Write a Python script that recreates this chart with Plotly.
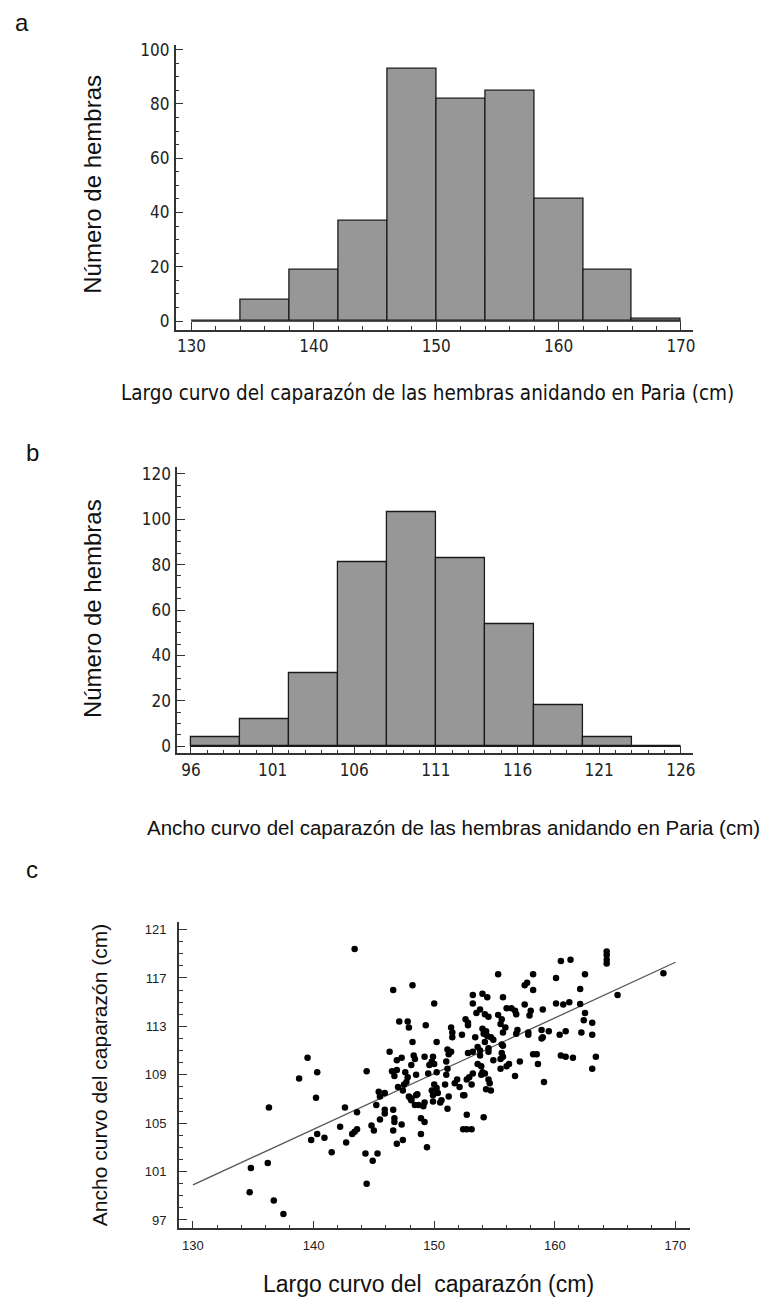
import plotly.graph_objects as go
import numpy as np

# ---------------- data ----------------
# Panel a: curved carapace length histogram (bin edges, counts)
a_edges = [130, 134, 138, 142, 146, 150, 154, 158, 162, 166, 170]
a_counts = [0, 8, 19, 37, 93, 82, 85, 45, 19, 1]
a_xticks = [130, 140, 150, 160, 170]
a_yticks = [0, 20, 40, 60, 80, 100]

# Panel b: curved carapace width histogram
b_edges = [96, 99, 102, 105, 108, 111, 114, 117, 120, 123, 126]
b_counts = [4, 12, 32, 81, 103, 83, 54, 18, 4, 0]
b_xticks = [96, 101, 106, 111, 116, 121, 126]
b_yticks = [0, 20, 40, 60, 80, 100, 120]

# Panel c: length vs width scatter
c_x = [143.4, 146.6, 148.2, 147.1, 147.8, 147.9, 148.2, 146.3, 139.5, 146.9,
       147.3, 148.3, 148.4, 148.1, 149.2, 138.8, 140.3, 140.2, 136.3, 144.4,
       146.5, 146.9, 146.7, 147.6, 147.8, 147.7, 147.5, 147.0, 147.4, 147.9,
       148.1, 148.5, 145.4, 145.5, 145.9, 145.2, 142.6, 143.6, 145.9, 145.9,
       146.6, 146.7, 146.7, 145.5, 142.2, 144.8, 145.0, 146.6, 147.3, 143.6,
       143.4, 143.2, 139.8, 140.3, 140.9, 142.7, 147.4, 146.9, 141.5, 144.3,
       145.3, 144.9, 134.8, 136.2, 144.4, 134.7, 136.7, 137.5,
       155.3, 158.2, 157.5, 157.7, 158.2, 160.1, 150.0, 153.2, 154.0, 154.4,
       153.2, 153.8, 153.5, 154.2, 154.5, 155.7, 156.0, 156.4, 156.7, 156.8,
       157.5, 158.0, 157.9, 159.0, 160.1, 155.3, 155.6, 155.5, 152.6, 152.8,
       152.8, 149.3, 151.4, 154.0, 154.3, 154.1, 154.4, 154.7, 154.9, 155.9,
       155.7, 156.9, 156.8, 157.8, 157.8, 158.9, 159.0, 158.9, 159.5, 151.5,
       151.5, 152.3, 153.4, 150.2, 154.2, 154.5, 153.6, 153.8, 153.2, 152.8,
       153.8, 154.5, 155.6, 155.6, 151.1, 151.4, 158.2, 158.5,
       164.3, 164.3, 164.3, 164.3, 160.5, 161.3, 169.0, 162.5, 162.1, 165.2,
       160.7, 161.2, 162.1, 162.5, 162.4, 163.1, 160.4, 160.9, 162.2, 163.1,
       160.5, 160.9, 161.5, 163.4, 163.1,
       158.6, 159.1, 157.1, 156.2, 156.0, 155.5, 154.9, 156.7, 153.6, 153.9,
       154.0, 153.9, 154.2, 153.2, 152.9, 152.7, 153.1, 154.5, 154.6, 154.3,
       154.7, 151.9, 152.1, 151.7, 152.4, 151.2, 151.0, 151.1, 151.0, 149.9,
       150.0, 149.6, 149.8, 149.5, 150.2, 148.5, 150.0, 150.2, 149.8, 150.3,
       149.9, 150.9, 148.6, 148.0, 148.1, 148.4, 148.7, 149.2, 149.1, 149.9,
       150.6, 150.5, 151.2, 151.1, 152.7, 154.1, 148.9, 149.2, 152.4, 152.7,
       153.1, 148.9, 149.4, 155.7, 155.7, 155.5, 152.5]
c_y = [119.4, 116.0, 116.4, 113.4, 113.4, 112.9, 111.7, 110.9, 110.4, 110.2,
       110.4, 110.6, 110.3, 109.8, 110.5, 108.7, 109.2, 107.1, 106.3, 109.3,
       109.3, 109.4, 108.9, 109.2, 108.8, 108.4, 108.2, 108.0, 107.7, 107.2,
       107.0, 107.3, 107.6, 107.2, 107.5, 106.5, 106.3, 105.9, 106.1, 105.8,
       106.1, 105.4, 105.1, 105.3, 104.7, 104.8, 104.4, 104.4, 104.9, 104.5,
       104.3, 104.1, 103.6, 104.1, 103.8, 103.4, 103.6, 103.3, 102.6, 102.5,
       102.5, 101.9, 101.3, 101.7, 100.0, 99.3, 98.6, 97.5,
       117.3, 117.3, 116.4, 116.6, 116.0, 117.0, 114.9, 115.6, 115.7, 115.4,
       114.9, 114.4, 114.1, 114.0, 113.8, 115.4, 114.5, 114.5, 114.3, 114.0,
       114.8, 114.3, 113.9, 114.4, 114.9, 113.95, 113.6, 113.2, 113.6, 113.3,
       113.1, 113.1, 112.9, 112.8, 112.6, 112.4, 112.2, 112.1, 111.9, 112.9,
       112.5, 112.7, 112.4, 112.5, 112.3, 112.7, 112.1, 112.0, 112.6, 112.5,
       112.1, 112.3, 112.1, 111.7, 111.7, 111.2, 111.3, 111.0, 110.9, 110.8,
       110.6, 110.9, 111.5, 110.8, 111.1, 110.9, 110.7, 110.7,
       119.2, 118.9, 118.5, 118.2, 118.4, 118.5, 117.4, 117.3, 116.1, 115.6,
       114.8, 115.0, 114.85, 114.1, 113.5, 113.3, 112.3, 112.6, 112.5, 112.3,
       110.6, 110.5, 110.4, 110.5, 109.5,
       109.9, 108.4, 110.1, 109.9, 109.7, 109.5, 110.2, 108.9, 109.9, 109.7,
       109.2, 109.0, 109.1, 109.1, 108.8, 108.6, 108.2, 108.6, 108.3, 107.8,
       107.7, 108.6, 108.0, 108.3, 107.3, 110.7, 110.1, 109.5, 109.0, 110.5,
       109.9, 109.8, 110.1, 109.1, 109.2, 109.0, 108.2, 107.9, 107.7, 107.5,
       107.3, 108.2, 107.4, 107.1, 106.9, 106.5, 106.5, 106.7, 106.4, 106.8,
       106.9, 106.7, 107.2, 106.2, 105.7, 105.5, 105.4, 105.1, 104.5, 104.5,
       104.5, 104.1, 103.0, 111.4, 110.5, 110.3, 107.3]
c_xticks = [130, 140, 150, 160, 170]
c_yticks = [97, 101, 105, 109, 113, 117, 121]
# regression line end points
line_x = [130, 170]
line_y = [99.9, 118.3]

# ---------------- figure ----------------
OFF = 8                      # page body margin of the html page
W, H = 780 - OFF, 1302 - OFF
AXC = "#333333"
NARROW = "Liberation Sans Narrow, Arial Narrow, DejaVu Sans Condensed, sans-serif"
ARIAL = "Liberation Sans, Arial, sans-serif"
BAR_FILL = "#979797"
BAR_LINE = "#1a1a1a"


def centers(edges):
    e = np.asarray(edges, dtype=float)
    return (e[:-1] + e[1:]) / 2, np.diff(e)


fig = go.Figure()

ca, wa = centers(a_edges)
fig.add_trace(go.Bar(x=ca, y=a_counts, width=wa, marker=dict(color=BAR_FILL, line=dict(color=BAR_LINE, width=1.3)),
                     xaxis="x", yaxis="y", showlegend=False))
fig.add_trace(go.Scatter(x=[a_edges[0], a_edges[-1]], y=[0, 0], mode="lines", line=dict(color=BAR_LINE, width=1.3),
                         xaxis="x", yaxis="y", showlegend=False, hoverinfo="skip"))

cb, wb = centers(b_edges)
fig.add_trace(go.Bar(x=cb, y=b_counts, width=wb, marker=dict(color=BAR_FILL, line=dict(color=BAR_LINE, width=1.3)),
                     xaxis="x2", yaxis="y2", showlegend=False))
fig.add_trace(go.Scatter(x=[b_edges[0], b_edges[-1]], y=[0, 0], mode="lines", line=dict(color=BAR_LINE, width=1.3),
                         xaxis="x2", yaxis="y2", showlegend=False, hoverinfo="skip"))

fig.add_trace(go.Scatter(x=line_x, y=line_y, mode="lines", line=dict(color="#555555", width=1.3),
                         xaxis="x3", yaxis="y3", showlegend=False))
fig.add_trace(go.Scatter(x=c_x, y=c_y, mode="markers", marker=dict(color="black", size=6.5),
                         xaxis="x3", yaxis="y3", showlegend=False))


def ax(domain, rng, tickvals, minor_dtick, font, size, anchor, standoff, ticklen=8):
    return dict(domain=domain, range=rng, tickmode="array", tickvals=tickvals,
                showline=True, linecolor=AXC, linewidth=1.5, ticks="inside", ticklen=ticklen,
                tickwidth=1.3, tickcolor=AXC, showgrid=False, zeroline=False, anchor=anchor,
                tickfont=dict(family=font, size=size, color="#222222"),
                ticklabelstandoff=standoff,
                minor=dict(ticks="inside", ticklen=4, tickwidth=1, tickcolor=AXC, dtick=minor_dtick,
                           tick0=tickvals[0], showgrid=False))


def px_x(p):
    return (p - OFF) / W


def px_y(p):
    return 1 - (p - OFF) / H


fig.update_layout(
    width=W, height=H, margin=dict(l=0, r=0, t=0, b=0),
    paper_bgcolor="white", plot_bgcolor="white", bargap=0,
    xaxis=ax([px_x(176), px_x(695)], [128.7, 171.0], a_xticks, 2, NARROW, 17, "y", 0),
    yaxis=ax([px_y(327), px_y(40)], [-3.3, 101.8], a_yticks, 5, NARROW, 17, "x", 1),
    xaxis2=ax([px_x(177.5), px_x(695)], [95.15, 126.76], b_xticks, 1, NARROW, 17, "y2", 0),
    yaxis2=ax([px_y(753), px_y(465)], [-3.1, 122.9], b_yticks, 5, NARROW, 17, "x2", 1),
    xaxis3=ax([px_x(179.3), px_x(691.7)], [128.83, 171.2], c_xticks, 2, ARIAL, 13, "y3", 4),
    yaxis3=ax([px_y(1231), px_y(923)], [96.3, 121.6], c_yticks, 1, ARIAL, 13, "x3", 8),
)

ann = []


def text(t, x, y, size, family=ARIAL, angle=0):
    ann.append(dict(text=t, x=px_x(x), y=px_y(y), xref="paper", yref="paper", showarrow=False,
                    xanchor="center", yanchor="middle", textangle=angle,
                    font=dict(family=family, size=size, color="#111111")))


text("a", 22, 18, 24)
text("b", 33, 450, 24)
text("c", 32, 870, 24)
text("Largo curvo del caparazón de las hembras anidando en Paria (cm)", 429, 390, 20.5, NARROW)
text("Número de hembras", 93, 180, 24, ARIAL, -90)
text("Ancho curvo del caparazón de las hembras anidando en Paria (cm)", 455, 828, 20.5, ARIAL)
text("Número de hembras", 93, 607, 24, ARIAL, -90)
text("Ancho curvo del caparazón (cm)", 100, 1077, 21, ARIAL, -90)
text("Largo curvo del  caparazón (cm)", 430, 1287, 23, ARIAL)
fig.update_layout(annotations=ann)

fig.write_html("out.html")
